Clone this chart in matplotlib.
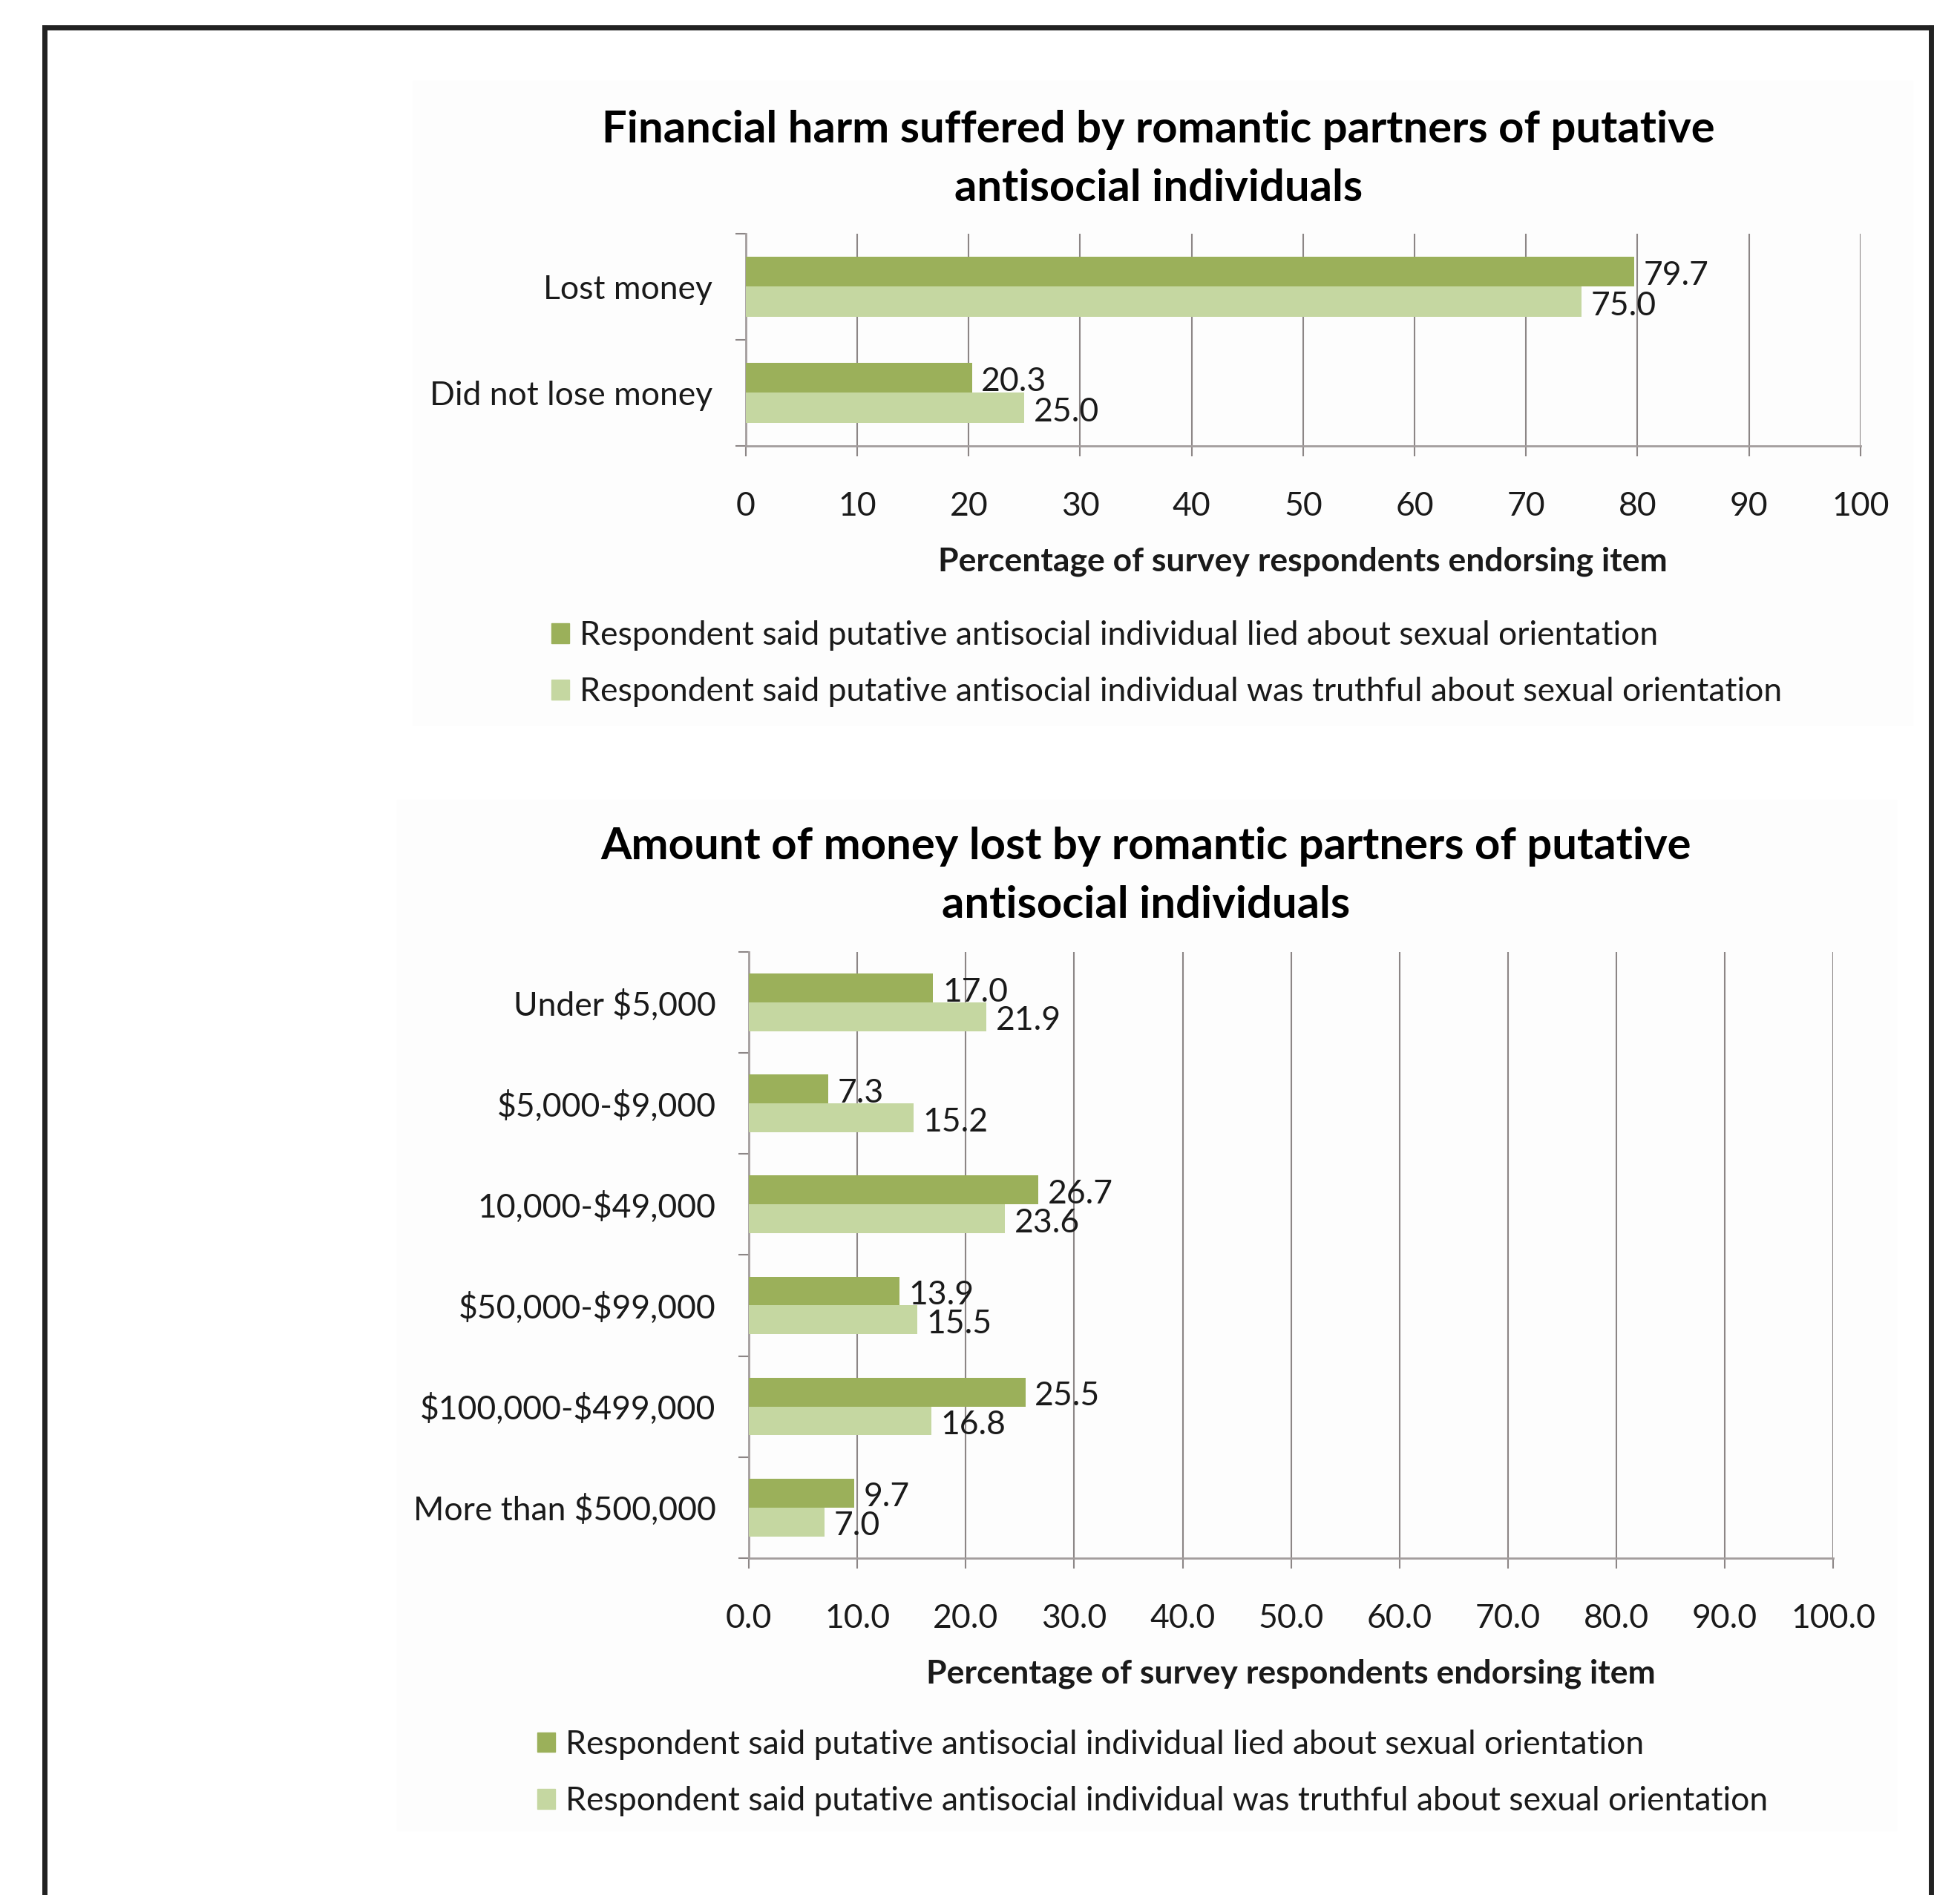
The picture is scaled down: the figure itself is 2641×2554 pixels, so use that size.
import numpy as np
import matplotlib
matplotlib.use("Agg")
import matplotlib.pyplot as plt
from matplotlib.patches import Patch, Rectangle
from matplotlib.lines import Line2D

plt.rcParams['font.family'] = ['Lato', 'DejaVu Sans']

series_names = [
    "Respondent said putative antisocial individual lied about sexual orientation",
    "Respondent said putative antisocial individual was truthful about sexual orientation",
]

harm_categories = ["Lost money", "Did not lose money"]
harm_lied = [79.7, 20.3]
harm_truthful = [75.0, 25.0]

amount_categories = ["Under $5,000", "$5,000-$9,000", "10,000-$49,000",
                     "$50,000-$99,000", "$100,000-$499,000", "More than $500,000"]
amount_lied = [17.0, 7.3, 26.7, 13.9, 25.5, 9.7]
amount_truthful = [21.9, 15.2, 23.6, 15.5, 16.8, 7.0]

x_ticks = list(range(0, 101, 10))

DARK = "#9bb05a"
LIGHT = "#c5d7a1"
GRID = "#8c8686"
TXT = "#1a1a1a"
FS = 32


def draw_panel(ax, cats, lied, truthful, tick_fmt):
    n = len(cats)
    y = np.arange(n)
    h = 0.285
    ax.barh(y - h / 2, lied, height=h, color=DARK, zorder=3)
    ax.barh(y + h / 2, truthful, height=h, color=LIGHT, zorder=3)
    for yy, vals in ((y - h / 2, lied), (y + h / 2, truthful)):
        for yi, v in zip(yy, vals):
            ax.annotate(f"{v:.1f}", (v, yi), xytext=(9, -4), textcoords="offset points",
                        va="center", ha="left", fontsize=FS, color=TXT, zorder=4)
    ax.set_xlim(0, 100)
    ax.set_ylim(n - 0.5, -0.5)
    ax.set_xticks(x_ticks)
    ax.set_xticklabels([tick_fmt.format(t) for t in x_ticks], fontsize=FS, color=TXT)
    ax.set_yticks(y)
    # escape the dollar signs so they are not read as mathtext
    ax.set_yticklabels([c.replace("$", r"\$") for c in cats], fontsize=FS, color=TXT)
    ax.set_yticks(np.arange(n + 1) - 0.5, minor=True)
    ax.tick_params(axis="y", which="major", length=0, pad=32)
    ax.tick_params(axis="y", which="minor", length=10, width=1.5, color=GRID)
    ax.tick_params(axis="x", length=10, width=1.5, color=GRID, pad=34)
    ax.grid(axis="x", color=GRID, lw=1.5, zorder=0)
    ax.set_axisbelow(True)
    for s in ("top", "right"):
        ax.spines[s].set_visible(False)
    for s in ("left", "bottom"):
        ax.spines[s].set_color("#a39d9d")
        ax.spines[s].set_linewidth(2)
    ax.set_facecolor("none")
    ax.set_xlabel("Percentage of survey respondents endorsing item",
                  fontsize=FS, fontweight="bold", color=TXT, labelpad=24)


fig = plt.figure(figsize=(26.41, 25.54), dpi=100)

# faint chart-area panels
fig.patches.append(Rectangle((556 / 2641, 1 - 977 / 2554), 2021 / 2641, 868 / 2554,
                             transform=fig.transFigure, color="#fdfdfd", zorder=-5))
fig.patches.append(Rectangle((535 / 2641, 1 - 2467 / 2554), 2020 / 2641, 1389 / 2554,
                             transform=fig.transFigure, color="#fdfdfd", zorder=-5))

# page frame (open at the bottom)
for xs, ys in (([60, 60], [2554, 37]), ([60, 2602], [37, 37]), ([2602, 2602], [37, 2554])):
    fig.add_artist(Line2D([x / 2641 for x in xs], [1 - v / 2554 for v in ys],
                          transform=fig.transFigure, color="#222222", lw=5))

ax1 = fig.add_axes([0.3805, 0.7647, 0.5687, 0.1120])
draw_panel(ax1, harm_categories, harm_lied, harm_truthful, "{:d}")

ax2 = fig.add_axes([0.3821, 0.1778, 0.5532, 0.3199])
draw_panel(ax2, amount_categories, amount_lied, amount_truthful, "{:.1f}")

fig.text(0.591, 0.916, "Financial harm suffered by romantic partners of putative\nantisocial individuals",
         ha="center", va="center", fontsize=43, fontweight="bold", color="black", linespacing=1.55)
fig.text(0.5847, 0.5378, "Amount of money lost by romantic partners of putative\nantisocial individuals",
         ha="center", va="center", fontsize=43, fontweight="bold", color="black", linespacing=1.55)

handles = [Patch(color=DARK), Patch(color=LIGHT)]
for anchor in ((0.2813, 0.6497), (0.2741, 0.0644)):
    fig.legend(handles, series_names, loc="center left", bbox_to_anchor=anchor,
               frameon=False, fontsize=FS, handlelength=0.55, handleheight=0.55,
               handletextpad=0.3, labelspacing=0.8, borderpad=0, borderaxespad=0,
               labelcolor=TXT)

fig.savefig("out.png", dpi=100, facecolor="white")
